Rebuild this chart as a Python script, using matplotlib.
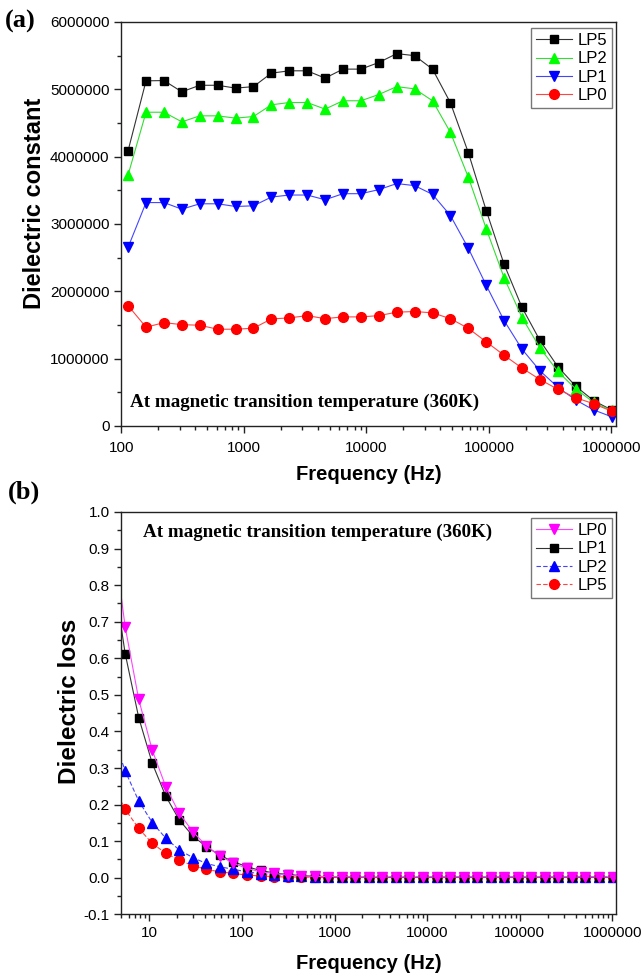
import numpy as np
import matplotlib
matplotlib.use("Agg")
import matplotlib.pyplot as plt
from matplotlib.ticker import LogLocator, MultipleLocator, NullFormatter, FuncFormatter

# ---------------- data ----------------
# panel (a) frequencies (Hz)
freq_a = [113.6, 159.1, 222.7, 311.8, 436.5, 611.1, 855.6, 1197.8, 1676.9, 2347.7,
          3286.8, 4601.5, 6442, 9019, 12627, 17677, 24748, 34648, 48507, 67910,
          95074, 133104, 186345, 260883, 365237, 511331, 715864, 1002210]
lp5_a = [4.09e6, 5.126e6, 5.13e6, 4.963e6, 5.06e6, 5.06e6, 5.018e6, 5.04e6, 5.24e6, 5.275e6,
         5.275e6, 5.166e6, 5.30e6, 5.30e6, 5.398e6, 5.53e6, 5.50e6, 5.30e6, 4.80e6, 4.06e6,
         3.20e6, 2.40e6, 1.76e6, 1.27e6, 0.88e6, 0.59e6, 0.376e6, 0.238e6]
lp2_a = [3.73e6, 4.66e6, 4.66e6, 4.517e6, 4.606e6, 4.606e6, 4.572e6, 4.596e6, 4.77e6, 4.804e6,
         4.804e6, 4.706e6, 4.83e6, 4.83e6, 4.923e6, 5.04e6, 5.007e6, 4.83e6, 4.36e6, 3.695e6,
         2.93e6, 2.20e6, 1.61e6, 1.16e6, 0.81e6, 0.55e6, 0.35e6, 0.23e6]
lp1_a = [2.655e6, 3.318e6, 3.318e6, 3.22e6, 3.30e6, 3.30e6, 3.26e6, 3.27e6, 3.40e6, 3.43e6,
         3.43e6, 3.36e6, 3.45e6, 3.45e6, 3.51e6, 3.60e6, 3.57e6, 3.44e6, 3.125e6, 2.64e6,
         2.09e6, 1.565e6, 1.14e6, 0.82e6, 0.575e6, 0.386e6, 0.238e6, 0.138e6]
lp0_a = [1.787e6, 1.467e6, 1.535e6, 1.505e6, 1.496e6, 1.437e6, 1.437e6, 1.452e6, 1.59e6, 1.605e6,
         1.639e6, 1.594e6, 1.62e6, 1.62e6, 1.639e6, 1.69e6, 1.70e6, 1.68e6, 1.594e6, 1.45e6,
         1.25e6, 1.05e6, 0.86e6, 0.69e6, 0.545e6, 0.42e6, 0.33e6, 0.22e6]

# panel (b) frequencies (Hz)
freq_b = [3.93, 5.5, 7.7, 10.78, 15.09, 21.13, 29.58, 41.41, 57.98, 81.17, 113.6, 159.1, 222.7,
          311.8, 436.5, 611.1, 855.6, 1197.8, 1676.9, 2347.7, 3286.8, 4601.5, 6442, 9019,
          12627, 17677, 24748, 34648, 48507, 67910, 95074, 133104, 186345, 260883, 365237,
          511331, 715864, 1002210]
lp0_b = [0.97, 0.686, 0.488, 0.349, 0.249, 0.176, 0.126, 0.087, 0.060, 0.039, 0.026, 0.016,
         0.012, 0.007, 0.005, 0.004, 0.003, 0.003, 0.002, 0.002, 0.002, 0.002, 0.002, 0.002,
         0.002, 0.002, 0.002, 0.002, 0.002, 0.002, 0.002, 0.002, 0.002, 0.002, 0.002, 0.002,
         0.002, 0.002]
lp1_b = [0.86, 0.613, 0.438, 0.313, 0.223, 0.158, 0.114, 0.085, 0.061, 0.044, 0.030, 0.020,
         0.013, 0.009, 0.006, 0.004, 0.003, 0.002, 0.002, 0.001, 0.001, 0.001, 0.001, 0.001,
         0.001, 0.001, 0.001, 0.001, 0.001, 0.001, 0.001, 0.001, 0.001, 0.001, 0.001, 0.001,
         0.001, 0.001]
lp2_b = [0.40, 0.292, 0.210, 0.151, 0.108, 0.076, 0.055, 0.039, 0.030, 0.023, 0.016, 0.011,
         0.008, 0.006, 0.004, 0.003, 0.002, 0.002, 0.002, 0.002, 0.002, 0.002, 0.002, 0.002,
         0.002, 0.002, 0.002, 0.002, 0.002, 0.002, 0.002, 0.002, 0.002, 0.002, 0.002, 0.002,
         0.002, 0.002]
lp5_b = [0.26, 0.187, 0.135, 0.094, 0.067, 0.048, 0.033, 0.023, 0.016, 0.012, 0.007, 0.005,
         0.003, 0.002, 0.002, 0.001, 0.001, 0.001, 0.001, 0.001, 0.001, 0.001, 0.001, 0.001,
         0.001, 0.001, 0.001, 0.001, 0.001, 0.001, 0.001, 0.001, 0.001, 0.001, 0.001, 0.001,
         0.001, 0.001]

# ---------------- style ----------------
plt.rcParams['font.family'] = ['Liberation Sans', 'DejaVu Sans']
SERIF = ['Liberation Serif', 'DejaVu Serif']

fig = plt.figure(figsize=(6.44, 9.73), dpi=100)
ax1 = fig.add_axes([0.1884, 0.5622, 0.7674, 0.4152])
ax2 = fig.add_axes([0.1884, 0.0603, 0.7674, 0.4135])


def style_axes(ax):
    ax.set_xscale('log')
    for s in ax.spines.values():
        s.set_linewidth(1.0)
        s.set_color('#222222')
    ax.tick_params(axis='both', which='major', direction='out', length=5, width=1,
                   labelsize=11, top=False, right=False, color='#222222')
    ax.tick_params(axis='both', which='minor', direction='out', length=3, width=1,
                   top=False, right=False, color='#222222')
    ax.xaxis.set_major_locator(LogLocator(base=10, numticks=20))
    ax.xaxis.set_minor_locator(LogLocator(base=10, subs=np.arange(2, 10), numticks=20))
    ax.xaxis.set_minor_formatter(NullFormatter())
    ax.xaxis.set_major_formatter(FuncFormatter(lambda v, p: '%d' % round(v)))


LEG_KW = dict(loc='upper right', fontsize=12, frameon=True, fancybox=False,
              edgecolor='#555555', handlelength=2.2, handletextpad=0.3, borderpad=0.3,
              labelspacing=0.2, bbox_to_anchor=(0.993, 0.985), borderaxespad=0.0)

# ---------------- panel (a) ----------------
style_axes(ax1)
kw = dict(linewidth=0.8)
h5, = ax1.plot(freq_a, lp5_a, color='#333333', marker='s', markersize=6,
               markerfacecolor='black', markeredgecolor='black', label='LP5', **kw)
h2, = ax1.plot(freq_a, lp2_a, color='#33dd33', marker='^', markersize=7.5,
               markerfacecolor='#00ff00', markeredgecolor='#00ff00', label='LP2', **kw)
h1, = ax1.plot(freq_a, lp1_a, color='#4444ff', marker='v', markersize=7.5,
               markerfacecolor='#0000ff', markeredgecolor='#0000ff', label='LP1', **kw)
h0, = ax1.plot(freq_a, lp0_a, color='#ff4444', marker='o', markersize=7,
               markerfacecolor='#ff0000', markeredgecolor='#ff0000', label='LP0', **kw)
ax1.set_xlim(100, 1.08e6)
ax1.set_ylim(0, 6e6)
ax1.yaxis.set_major_locator(MultipleLocator(1e6))
ax1.yaxis.set_minor_locator(MultipleLocator(5e5))
ax1.yaxis.set_major_formatter(FuncFormatter(lambda v, p: '%d' % round(v)))
ax1.tick_params(axis='x', which='major', pad=6)
ax1.set_xlabel('Frequency (Hz)', fontsize=14.5, fontweight='bold', labelpad=7)
ax1.set_ylabel('Dielectric constant', fontsize=17, fontweight='bold', labelpad=3)
ax1.yaxis.label.set_y(0.55)
leg1 = ax1.legend(handles=[h5, h2, h1, h0], **LEG_KW)
leg1.get_frame().set_linewidth(1.0)
ax1.text(0.018, 0.059, 'At magnetic transition temperature (360K)', transform=ax1.transAxes,
         fontsize=13.7, fontweight='bold', family=SERIF, ha='left', va='center')
fig.text(0.008, 0.978, '(a)', fontsize=19, fontweight='bold', family=SERIF, ha='left', va='center')

# ---------------- panel (b) ----------------
style_axes(ax2)
kw2 = dict(linewidth=0.8)
g5, = ax2.plot(freq_b, lp5_b, color='#ff4444', marker='o', markersize=7,
               markerfacecolor='#ff0000', markeredgecolor='#ff0000', label='LP5',
               linestyle='--', dashes=(4, 2), **kw2)
g2, = ax2.plot(freq_b, lp2_b, color='#4444ff', marker='^', markersize=7.5,
               markerfacecolor='#0000ff', markeredgecolor='#0000ff', label='LP2',
               linestyle='--', dashes=(4, 2), **kw2)
g1, = ax2.plot(freq_b, lp1_b, color='#333333', marker='s', markersize=6,
               markerfacecolor='black', markeredgecolor='black', label='LP1', **kw2)
g0, = ax2.plot(freq_b, lp0_b, color='#ff44ff', marker='v', markersize=7.5,
               markerfacecolor='#ff00ff', markeredgecolor='#ff00ff', label='LP0', **kw2)
ax2.set_xlim(5, 1.08e6)
ax2.set_ylim(-0.1, 1.0)
ax2.yaxis.set_major_locator(MultipleLocator(0.1))
ax2.yaxis.set_minor_locator(MultipleLocator(0.05))
ax2.yaxis.set_major_formatter(FuncFormatter(lambda v, p: '%.1f' % v))
ax2.set_xlabel('Frequency (Hz)', fontsize=14.5, fontweight='bold', labelpad=10)
ax2.set_ylabel('Dielectric loss', fontsize=17.5, fontweight='bold', labelpad=2)
ax2.yaxis.label.set_y(0.53)
leg2 = ax2.legend(handles=[g0, g1, g2, g5], **LEG_KW)
leg2.get_frame().set_linewidth(1.0)
ax2.text(0.044, 0.950, 'At magnetic transition temperature (360K)', transform=ax2.transAxes,
         fontsize=13.7, fontweight='bold', family=SERIF, ha='left', va='center')
fig.text(0.012, 0.494, '(b)', fontsize=19, fontweight='bold', family=SERIF, ha='left', va='center')

fig.savefig('out.png', dpi=100)
